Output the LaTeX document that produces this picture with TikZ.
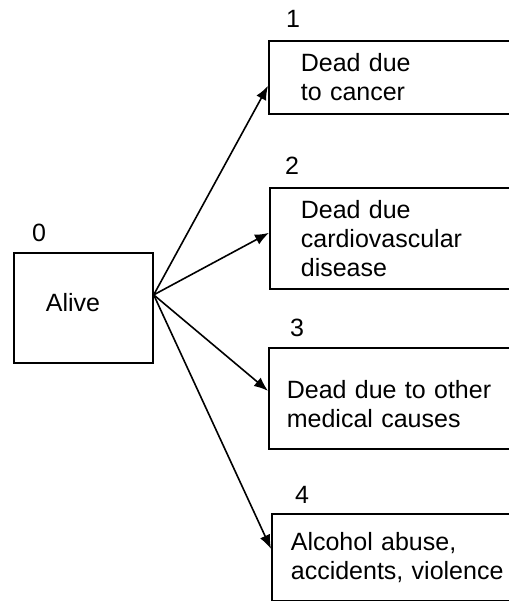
\documentclass[tikz,border=0pt]{standalone}
\usepackage{fontspec}
\setmainfont{Liberation Sans}
\usetikzlibrary{arrows.meta}

\begin{document}
\begin{tikzpicture}[x=1pt,y=-1pt,>={Latex[length=14pt,width=11pt]},
  state/.style={draw,line width=1.7pt,anchor=north west,align=left,
    inner ysep=0pt,font=\fontsize{25}{29}\selectfont},
  num/.style={anchor=base,font=\fontsize{25}{29}\selectfont},
  link/.style={->,line width=1.6pt}]
\useasboundingbox (0,0) rectangle (508,601);

% {Alive}
\node[state,minimum height=110,text width=75,inner xsep=32,text depth=10pt] (alive) at (13,252) {Alive};
\node[num] (n0) at (39,242) {0};

% {Causes of death}
\node[state,minimum height=73,text width=208,inner xsep=32] (d1) at (268,40) {Dead due\\to cancer};
\node[state,minimum height=101,text width=210,inner xsep=31] (d2) at (269,187) {Dead due\\cardiovascular\\disease};
\node[state,minimum height=101,text width=236,inner xsep=18] (d3) at (268,347) {\rule{0pt}{30pt}Dead due to other\\medical causes};
\node[state,minimum height=87,text width=214,inner xsep=19] (d4) at (271,513) {Alcohol abuse,\\accidents, violence};

\node[num] (n1) at (293,28) {1};
\node[num] (n2) at (292,175) {2};
\node[num] (n3) at (297,336) {3};
\node[num] (n4) at (302,503) {4};

\coordinate (fan) at ([yshift=13pt]alive.east);
\draw [link] (fan) -- ([yshift=-8.5pt]d1.west);
\draw [link] (fan) -- ([yshift=5.5pt]d2.west);
\draw [link] (fan) -- ([yshift=7.5pt]d3.west);
\draw [link] (fan) -- ([yshift=8.5pt]d4.west);

\end{tikzpicture}
\end{document}
